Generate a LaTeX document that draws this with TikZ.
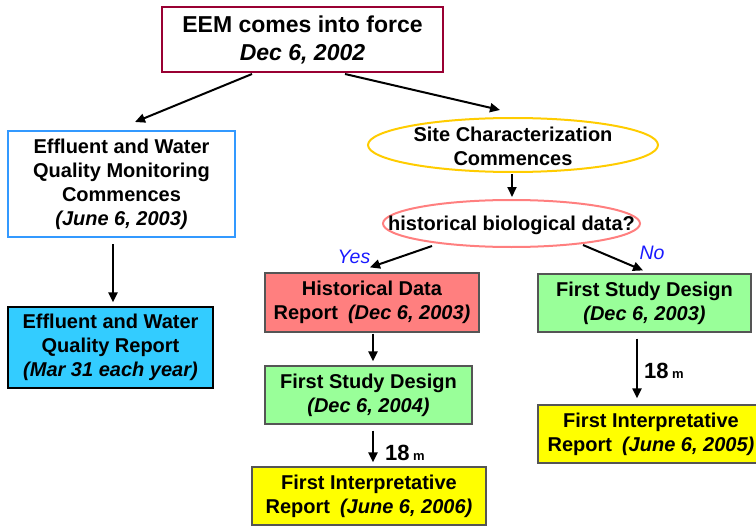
\documentclass[tikz,border=0pt]{standalone}
\usepackage{fontspec}
\setmainfont{Liberation Sans}
\usetikzlibrary{calc,shapes.geometric,arrows.meta}
\definecolor{topred}{HTML}{990033}
\definecolor{bluebd}{HTML}{3399FF}
\definecolor{cyanfill}{HTML}{33CCFF}
\definecolor{goldbd}{HTML}{FFCC00}
\definecolor{pinkbd}{HTML}{FF7F7F}
\definecolor{salmon}{HTML}{FF7F7F}
\definecolor{lgreen}{HTML}{99FF99}
\definecolor{yfill}{HTML}{FFFF00}
\definecolor{boxgray}{HTML}{555555}
\definecolor{ynblue}{HTML}{1A1AFF}
\begin{document}
\begin{tikzpicture}[x=1pt,y=-1pt,
  txt/.style={align=center,inner sep=0pt,font=\bfseries\fontsize{20}{24}\selectfont},
  box/.style={txt,draw=boxgray,line width=1.2pt,rectangle},
  oval/.style={ellipse,line width=2pt,inner sep=0pt},
  arr/.style={line width=2pt,-{Triangle[length=10pt,width=9pt]}},
  yn/.style={text=ynblue,inner sep=0pt,font=\itshape\fontsize{19.5}{22}\selectfont},
  big/.style={inner sep=0pt,anchor=base west,font=\bfseries\fontsize{22}{24}\selectfont},
  small/.style={inner sep=0pt,anchor=base west,font=\bfseries\fontsize{13}{15}\selectfont}]
\useasboundingbox (0,0) rectangle (756,527);

% nodes
\node[box,draw=topred,line width=2pt,fill=white,minimum width=281,minimum height=65,
      font=\bfseries\fontsize{23}{28}\selectfont] (top) at (302.5,39.5)
      {EEM comes into force\\\textit{Dec 6, 2002}};
\node[box,draw=bluebd,line width=2pt,fill=white,minimum width=227,minimum height=106] (blue) at (121.5,184)
      {Effluent and Water\\Quality Monitoring\\Commences\\\textit{(June 6, 2003)}};
\node[box,draw=black,fill=cyanfill,minimum width=205,minimum height=81] (cyan) at (110.5,347.5)
      {Effluent and Water\\Quality Report\\\textit{(Mar 31 each year)}};
\node[oval,draw=goldbd,minimum width=290,minimum height=54] (ell1) at (513,145) {};
\node[txt] (ell1t) at (513,146) {Site Characterization\\Commences};
\node[oval,draw=pinkbd,minimum width=257,minimum height=47] (ell2) at (511.5,223.5) {};
\node[txt] (ell2t) at (511.5,225) {historical biological data?};
\node[box,fill=salmon,minimum width=214,minimum height=59] (hist) at (372,302.5)
      {Historical Data\\Report\enspace\textit{(Dec 6, 2003)}};
\node[box,fill=lgreen,minimum width=207,minimum height=58] (fsd1) at (368.5,395)
      {First Study Design\\\textit{(Dec 6, 2004)}};
\node[box,fill=yfill,minimum width=234,minimum height=58] (fir1) at (369,496)
      {First Interpretative\\Report\enspace\textit{(June 6, 2006)}};
\node[box,fill=lgreen,minimum width=213,minimum height=58] (fsd2) at (644.5,303)
      {First Study Design\\\textit{(Dec 6, 2003)}};
\node[box,fill=yfill,minimum width=226,minimum height=58] (fir2) at (651,434)
      {First Interpretative\\Report\enspace\textit{(June 6, 2005)}};

% labels
\node[yn] (yes) at (354,257) {Yes};
\node[yn] (no) at (652,253) {No};
\node[big] (n18a) at (385,460) {18};
\node[small] (ma) at (413,460) {m};
\node[big] (n18b) at (644,378) {18};
\node[small] (mb) at (672,378) {m};

% connectors
\draw[arr] ($(top.south)+(-50.5,1)$) -- ($(blue.north)+(13.5,-8)$);
\draw[arr] ($(top.south)+(42.5,1)$) -- ($(ell1.north)+(-13,-7)$);
\draw[arr] ($(blue.south)+(-8.5,6)$) -- ($(cyan.north)+(2.5,-4)$);
\draw[arr] ($(ell1.south)+(-1,1)$) -- ($(ell2.north)+(0.5,-2)$);
\draw[arr] ($(ell2.center)+(-79.5,22.5)$) -- ($(hist.north)+(-2,-5)$);
\draw[arr] ($(ell2.center)+(71.5,21.5)$) -- ($(fsd2.north)+(-1.5,-3)$);
\draw[arr] ($(hist.south)+(1,1)$) -- ($(fsd1.north)+(4.5,-4)$);
\draw[arr] ($(fsd1.south)+(4.5,6)$) -- ($(fir1.north)+(4,-4)$);
\draw[arr] ($(fsd2.south)+(-7.5,6)$) -- ($(fir2.north)+(-14,-6)$);
\end{tikzpicture}
\end{document}
